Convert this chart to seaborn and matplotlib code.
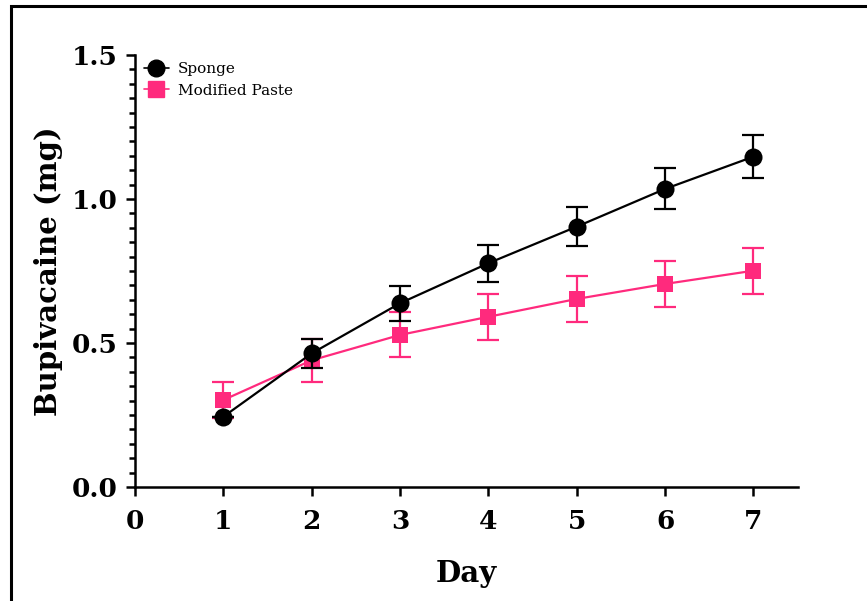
"""Cumulative bupivacaine release: sponge vs modified paste."""

import matplotlib

matplotlib.use("Agg")
import matplotlib.pyplot as plt
import pandas as pd
import seaborn as sns
from matplotlib.lines import Line2D
from matplotlib.patches import Rectangle
from matplotlib.ticker import MultipleLocator

days = [1, 2, 3, 4, 5, 6, 7]
sponge_mean = [0.244, 0.464, 0.638, 0.777, 0.904, 1.035, 1.147]
sponge_err = [0.0, 0.050, 0.061, 0.064, 0.067, 0.071, 0.075]
paste_mean = [0.302, 0.440, 0.528, 0.591, 0.653, 0.705, 0.751]
paste_err = [0.064, 0.075, 0.078, 0.080, 0.080, 0.081, 0.080]

SPONGE_COLOR = "black"
PASTE_COLOR = "#FF2A7D"

sns.set_theme(style="ticks")
plt.rcParams["font.family"] = ["DejaVu Serif"]
plt.rcParams["text.color"] = "black"
plt.rcParams["axes.labelcolor"] = "black"
plt.rcParams["xtick.color"] = "black"
plt.rcParams["ytick.color"] = "black"

df = pd.concat(
    [
        pd.DataFrame({"day": days, "mg": sponge_mean, "group": "Sponge"}),
        pd.DataFrame({"day": days, "mg": paste_mean, "group": "Modified Paste"}),
    ]
)

fig = plt.figure(figsize=(8.67, 6.01), dpi=100)
ax = fig.add_axes([0.1557, 0.1897, 0.7643, 0.7188])

# error bars first, then the mean lines on top
ax.errorbar(days, paste_mean, yerr=paste_err, fmt="none", ecolor=PASTE_COLOR,
            elinewidth=1.6, capsize=8, capthick=1.6, zorder=2)
sns.lineplot(data=df[df.group == "Modified Paste"], x="day", y="mg",
             color=PASTE_COLOR, marker="s", markersize=12, markeredgewidth=0,
             linewidth=1.6, ax=ax, zorder=3, legend=False)
ax.errorbar(days, sponge_mean, yerr=sponge_err, fmt="none", ecolor=SPONGE_COLOR,
            elinewidth=1.6, capsize=8, capthick=1.6, zorder=4)
sns.lineplot(data=df[df.group == "Sponge"], x="day", y="mg",
             color=SPONGE_COLOR, marker="o", markersize=13, markeredgewidth=0,
             linewidth=1.6, ax=ax, zorder=5, legend=False)

ax.set_xlim(0, 7.5)
ax.set_ylim(0, 1.5)
ax.set_xticks(range(0, 8))
ax.set_yticks([0.0, 0.5, 1.0, 1.5])
ax.set_yticklabels(["0.0", "0.5", "1.0", "1.5"])
ax.yaxis.set_minor_locator(MultipleLocator(0.05))
ax.set_xlabel("Day", fontsize=21, fontweight="bold", labelpad=18)
ax.set_ylabel("Bupivacaine (mg)", fontsize=21, fontweight="bold", labelpad=6)
ax.tick_params(axis="both", which="major", length=6.5, width=1.8,
               labelsize=19, color="black", labelcolor="black")
ax.tick_params(axis="x", which="major", pad=9)
ax.tick_params(axis="y", which="major", pad=6)
ax.tick_params(axis="y", which="minor", length=4, width=1.8, color="black")
for lbl in ax.get_xticklabels() + ax.get_yticklabels():
    lbl.set_fontweight("bold")
for side in ("left", "bottom"):
    ax.spines[side].set_linewidth(1.8)
    ax.spines[side].set_color("black")
sns.despine(ax=ax)
ax.spines["left"].set_zorder(6)
ax.spines["bottom"].set_zorder(6)

handles = [
    Line2D([], [], color=SPONGE_COLOR, marker="o", markersize=12,
           linewidth=1.2),
    Line2D([], [], color=PASTE_COLOR, marker="s", markersize=12,
           linewidth=1.2),
]
ax.legend(handles, ["Sponge", "Modified Paste"], loc="upper left",
          bbox_to_anchor=(0.0, 1.005), frameon=False, fontsize=11,
          handlelength=1.6, handletextpad=0.6, labelspacing=0.5,
          borderaxespad=0.2, labelcolor="black")

# outer frame, cropped at the right and bottom as in the source image
fig.add_artist(Rectangle((11 / 867, -0.5), 2.0, 0.5 + 1 - 6 / 601,
                         transform=fig.transFigure, fill=False,
                         edgecolor="black", linewidth=2.2))

fig.savefig("out.png", dpi=100)
